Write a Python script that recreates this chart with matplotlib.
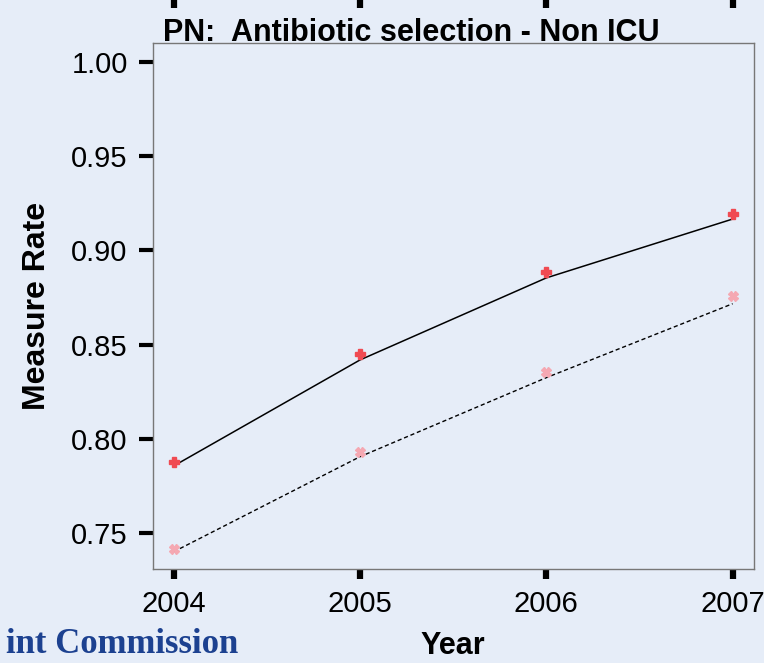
import numpy as np
import matplotlib.pyplot as plt

plt.rcParams.update({
    "font.family": ["Liberation Sans", "DejaVu Sans"],
    "font.size": 21,
})

# measure rates
years = [2004, 2005, 2006, 2007]
rate_line = [0.7857, 0.8419, 0.8854, 0.9166]
rate_pts = [0.7880, 0.8449, 0.8885, 0.9193]
ref_line = [0.7402, 0.7906, 0.8325, 0.8717]
ref_pts = [0.7417, 0.7933, 0.8357, 0.8760]
yticks = [0.75, 0.80, 0.85, 0.90, 0.95, 1.00]

bg = "#e6edf8"
W, H = 764, 663

fig = plt.figure(figsize=(W / 100, H / 100), dpi=100, facecolor=bg)
ax = fig.add_axes([152.7 / W, 1 - 568.7 / H, 601 / W, 526 / H], facecolor=bg)

ax.plot(years, rate_line, color="black", lw=1.1)
ax.plot(years, ref_line, color="black", lw=1.0, ls=(0, (3, 2)))
ax.plot(years, rate_pts, ls="none", marker="P", ms=7, color="#f04a52", mec="#f04a52")
ax.plot(years, ref_pts, ls="none", marker="X", ms=7, color="#f5a8b2", mec="#f5a8b2")

ax.set_xlim(2003.887, 2007.113)
ax.set_ylim(0.7312, 1.0101)
ax.set_xticks(years)
ax.set_yticks(yticks)
ax.set_yticklabels([f"{v:.2f}" for v in yticks])

for s in ax.spines.values():
    s.set_color("#777777")
    s.set_linewidth(1.0)

ax.tick_params(axis="y", direction="out", length=10, width=3, pad=8, color="black")
ax.tick_params(axis="x", direction="out", length=7, width=4.5, pad=8, color="black")

ax.set_xlabel("Year", fontsize=22, fontweight="bold", labelpad=10)
ax.set_ylabel("Measure Rate", fontsize=23, fontweight="bold", labelpad=14)

# ticks of the panel above, peeking in at the top edge
top = fig.add_axes([152.7 / W, 1.0, 601 / W, 0.05])
top.set_xlim(ax.get_xlim())
top.set_xticks(years)
top.set_xticklabels([])
top.set_yticks([])
top.tick_params(axis="x", direction="out", length=6, width=4.5, color="black")
for s in top.spines.values():
    s.set_visible(False)

fig.text(163 / W, 1 - 41 / H, "PN:  Antibiotic selection - Non ICU",
         fontsize=22, fontweight="bold", va="baseline", ha="left")

fig.text(238 / W, 1 - 661 / H, "int Commission", fontsize=25, fontweight="bold",
         family=["Liberation Serif", "DejaVu Serif"], color="#1c4190",
         ha="right", va="bottom")

fig.savefig("out.png", dpi=100, facecolor=bg)
